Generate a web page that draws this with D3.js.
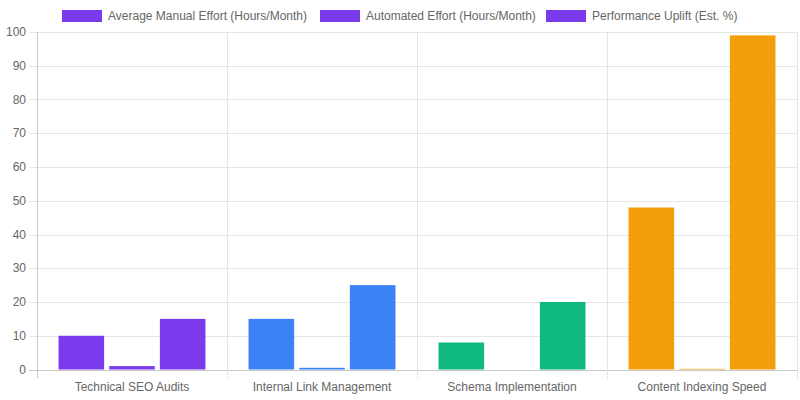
<!DOCTYPE html>
<html>
<head>
<meta charset="utf-8">
<script src="https://cdn.jsdelivr.net/npm/d3@7"></script>
<style>
  body { margin: 0; background: #fff; }
  text { font-family: "Liberation Sans", Arial, sans-serif; }
</style>
</head>
<body>
<div id="chart"></div>
<script>
// categories and series
const categories = ['Technical SEO Audits', 'Internal Link Management', 'Schema Implementation', 'Content Indexing Speed'];
const seriesNames = ['Average Manual Effort (Hours/Month)', 'Automated Effort (Hours/Month)', 'Performance Uplift (Est. %)'];
const manualEffort = [10, 15, 8, 48];
const automatedEffort = [1, 0.5, 0, 0.2];
const perfUplift = [15, 25, 20, 99];
const categoryColors = ['#7c3aed', '#3b82f6', '#10b981', '#f59e0b'];
const yTicks = [0, 10, 20, 30, 40, 50, 60, 70, 80, 90, 100];

const series = [manualEffort, automatedEffort, perfUplift];

const width = 800;
const height = 400;
const plotLeft = 37, plotRight = 797, plotTop = 32, plotBottom = 369.5;

const svg = d3.select('#chart').append('svg')
  .attr('width', width)
  .attr('height', height);

// scales
const x = d3.scaleBand().domain(categories).range([plotLeft, plotRight]);
const inner = d3.scaleBand().domain(d3.range(series.length))
  .range([0, x.bandwidth() * 0.8]).paddingInner(0.1).paddingOuter(0.05);
const y = d3.scaleLinear().domain([0, 100]).range([plotBottom, plotTop]);

// horizontal grid
svg.append('g')
  .selectAll('line')
  .data(yTicks)
  .enter().append('line')
  .attr('x1', plotLeft - 8).attr('x2', plotRight)
  .attr('y1', d => Math.round(y(d)) + 0.5).attr('y2', d => Math.round(y(d)) + 0.5)
  .attr('stroke', d => d === 0 ? '#c8c8c8' : '#e6e6e6');

// vertical grid at category edges
const edges = categories.map(c => x(c)).concat([plotRight]);
svg.append('g')
  .selectAll('line')
  .data(edges)
  .enter().append('line')
  .attr('x1', d => d + 0.5).attr('x2', d => d + 0.5)
  .attr('y1', plotTop).attr('y2', plotBottom + 9)
  .attr('stroke', (d, i) => i === 0 ? '#c8c8c8' : '#e6e6e6');

// y labels
svg.append('g')
  .selectAll('text')
  .data(yTicks)
  .enter().append('text')
  .attr('x', 26)
  .attr('y', d => y(d) + 4)
  .attr('text-anchor', 'end')
  .attr('font-size', 12)
  .attr('fill', '#666')
  .text(d => d);

// x labels
svg.append('g')
  .selectAll('text')
  .data(categories)
  .enter().append('text')
  .attr('x', d => x(d) + x.bandwidth() / 2)
  .attr('y', 391)
  .attr('text-anchor', 'middle')
  .attr('font-size', 12)
  .attr('fill', '#666')
  .text(d => d);

// bars
const offset = x.bandwidth() * 0.1;
series.forEach((vals, si) => {
  svg.append('g')
    .selectAll('rect')
    .data(vals)
    .enter().append('rect')
    .attr('x', (d, i) => x(categories[i]) + offset + inner(si))
    .attr('y', d => y(d))
    .attr('width', inner.bandwidth())
    .attr('height', d => plotBottom - y(d))
    .attr('fill', (d, i) => categoryColors[i]);
});

// legend (all boxes take the first colour)
const legendX = [62, 320, 546];
const legend = svg.append('g');
seriesNames.forEach((name, i) => {
  legend.append('rect')
    .attr('x', legendX[i]).attr('y', 10)
    .attr('width', 40).attr('height', 12)
    .attr('fill', categoryColors[0]);
  legend.append('text')
    .attr('x', legendX[i] + 46).attr('y', 20)
    .attr('font-size', 12)
    .attr('fill', '#666')
    .text(name);
});
</script>
</body>
</html>
